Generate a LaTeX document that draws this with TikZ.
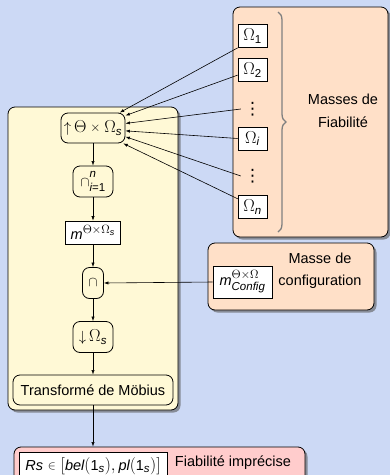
\documentclass[tikz,border=0pt]{standalone}
\usepackage{amsmath}
\usepackage{fontspec}
\setmainfont{Liberation Sans}
\newfontfamily\djv{DejaVu Sans}
\DeclareMathSizes{14.5}{16.5}{11.5}{9}
\usetikzlibrary{arrows.meta,shadows,decorations.pathreplacing,calc}
\definecolor{bg}{RGB}{204,217,245}
\definecolor{yel}{RGB}{255,249,214}
\definecolor{peach}{RGB}{255,224,200}
\definecolor{pinkc}{RGB}{255,204,204}
\newcommand\ti[1]{\text{\itshape #1}}
\newcommand\tn[1]{\text{#1}}
\newcommand\sX{\mathbin{\raisebox{0.6pt}{\scalebox{0.75}{$\times$}}}}
\newcommand\sCap{\mathord{\scalebox{0.8}{$\cap$}}}
\newcommand\sIn{\mathrel{\raisebox{0.8pt}{\scalebox{0.7}{$\in$}}}}
\newcommand\sUp{\mathord{\scalebox{0.85}{$\uparrow$}}\,}
\newcommand\sDown{\mathord{\scalebox{0.85}{$\downarrow$}}\,}
\begin{document}
\begin{tikzpicture}[x=1pt,y=-1pt,
  every node/.style={font=\fontsize{14.5}{17}\selectfont},
  panel/.style={draw=black, line width=0.8pt, rounded corners=7pt, inner sep=0pt,
    drop shadow={shadow xshift=2.5pt, shadow yshift=-2.5pt, fill=black!65, opacity=0.6}},
  rbox/.style={draw=black, line width=0.8pt, rounded corners=7pt, inner sep=0pt},
  wbox/.style={draw=black, line width=0.7pt, fill=white, inner sep=0pt},
  twoline/.style={align=center, font=\fontsize{14.5}{22.5}\selectfont},
  vdot/.style={inner sep=0pt, font=\djv\fontsize{17}{18}\selectfont},
  arr/.style={-{Latex[length=4.5pt,width=3.2pt]}, line width=0.6pt}]
\clip (0,0) rectangle (390,475);
\fill[bg] (0,0) rectangle (390,475);
% panels
\node[panel, fill=yel, minimum width=170pt, minimum height=303pt] (yel) at (93,258.5) {};
\node[panel, fill=peach, minimum width=155pt, minimum height=230pt] (masses) at (310.5,122) {};
\node[panel, fill=peach, minimum width=166pt, minimum height=67pt] (config) at (291,276.5) {};
\node[panel, fill=pinkc, minimum width=291pt, minimum height=40pt] (pink) at (159.5,467) {};
% left chain
\node[rbox, minimum width=64pt, minimum height=30pt] (up) at (93,128) {$\sUp\Theta\sX\Omega_{\ti{s}}$};
\node[rbox, minimum width=40pt, minimum height=31pt] (capn) at (93,181.5) {${\sCap\mathstrut}^{\ti{n}}_{\ti{i}\tn{=1}}$};
\node[wbox, minimum width=55pt, minimum height=23pt] (mbox) at (93,232.5) {$\ti{m}^{\Theta\times\Omega_{\ti{s}}}$};
\node[rbox, minimum width=21pt, minimum height=31pt] (cap) at (93,283) {$\sCap$};
\node[rbox, minimum width=40pt, minimum height=31pt] (down) at (93,337) {$\sDown\Omega_{\ti{s}}$};
\node[rbox, minimum width=160pt, minimum height=30pt] (mob) at (93,390) {Transformé de Möbius};
% masses
\node[wbox, minimum width=29pt, minimum height=23pt] (o1) at (252.5,36) {$\Omega_{\tn{1}}$};
\node[wbox, minimum width=29pt, minimum height=23pt] (o2) at (252.5,70) {$\Omega_{\tn{2}}$};
\node[vdot] (d1) at (252.5,109) {⋮};
\node[wbox, minimum width=29pt, minimum height=23pt] (oi) at (252.5,138.5) {$\Omega_{\ti{i}}$};
\node[vdot] (d2) at (252.5,176) {⋮};
\node[wbox, minimum width=29pt, minimum height=23pt] (on) at (252.5,207) {$\Omega_{\ti{n}}$};
\coordinate (bt) at (278,12);
\coordinate (bb) at (278,232);
\draw[black!50, line width=1.3pt, decorate, decoration={brace, amplitude=8pt}] (bt) -- (bb);
\node[twoline] (mlab) at (343,111) {Masses de\\Fiabilité};
% config
\node[wbox, minimum width=59pt, minimum height=32pt] (mconf) at (242.5,282) {$\ti{m}^{\Theta\times\Omega}_{\ti{Config}}$};
\node[twoline] (clab) at (320,270.5) {Masse de\\configuration};
% result
\node[wbox, minimum width=148pt, minimum height=28pt] (rs) at (93,466) {$\ti{Rs}\sIn[\ti{bel}(\tn{1}_{\ti{s}}),\ti{pl}(\tn{1}_{\ti{s}})]$};
\node (flab) at (233,463) {Fiabilité imprécise};
% arrows
\draw[arr] (up) -- (capn);
\draw[arr] (capn) -- (mbox);
\draw[arr] (mbox) -- (cap);
\draw[arr] (cap) -- (down);
\draw[arr] (down) -- (mob);
\draw[arr] (mconf.west) -- (cap.east);
\draw[arr] (mob.south) -- (mob.south |- pink.north);
\draw[arr] (o1.south west) -- (up.30);
\draw[arr] (o2.199) -- (up.21);
\draw[arr] ([xshift=-3pt]d1.west) -- (up.8);
\draw[arr] (oi.west) -- (up.-5);
\draw[arr] ([xshift=-3pt]d2.west) -- (up.-15);
\draw[arr] (on.151) -- (up.-27);
\end{tikzpicture}
\end{document}
